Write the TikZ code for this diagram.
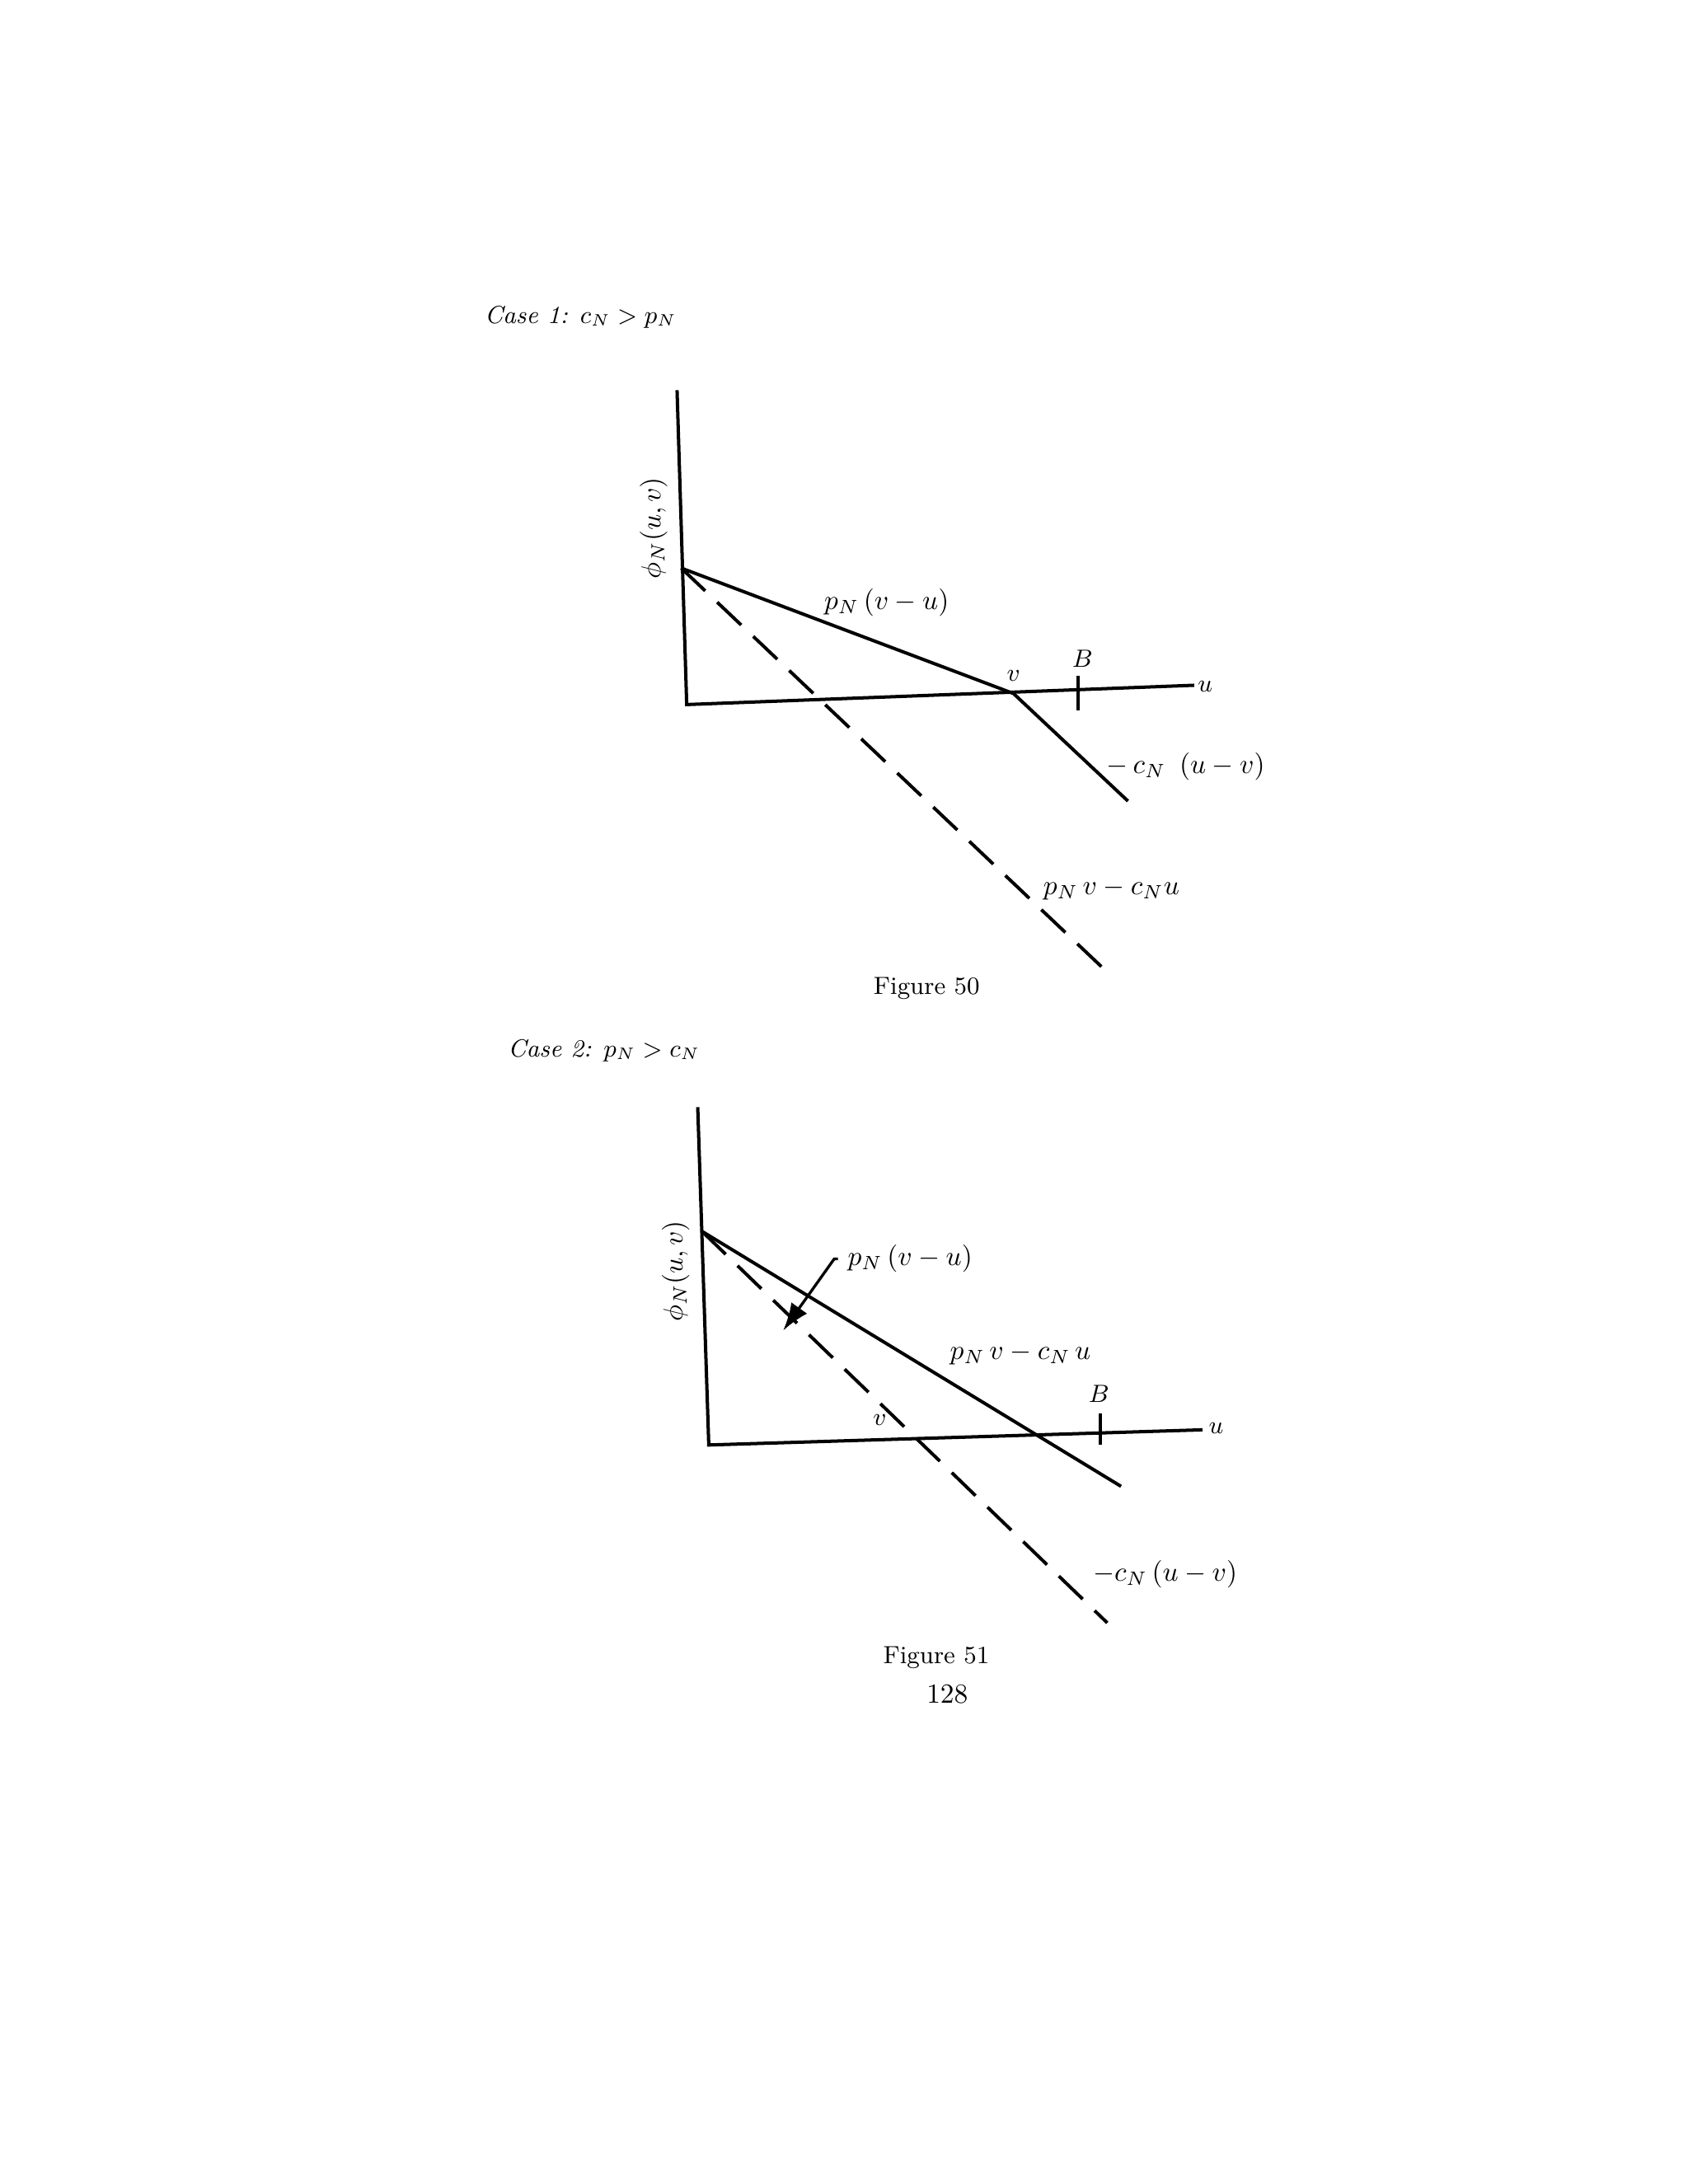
\documentclass[tikz,border=0pt]{standalone}
\usepackage{amsmath}
\usetikzlibrary{arrows.meta}
\begin{document}
\begin{tikzpicture}[x=0.5pt,y=-0.5pt,
  ln/.style={line width=1.2pt},
  dl/.style={line width=1.2pt,dash pattern=on 12pt off 6pt}]
\useasboundingbox (0,0) rectangle (1224,1584);
% Figure 50
\node at (421,230) {\small\itshape Case 1: $c_N > p_N$};
\coordinate (o1) at (498,511);
\coordinate (a1) at (494,412);
\coordinate (v1) at (735,503);
\draw[ln] (491,283) -- (o1) -- (866,497);
\draw[ln] (a1) -- (v1) -- (818,581);
\draw[dl] (a1) -- (805,707);
\draw[ln] (782,490) -- (782,515);
\node[rotate=90] at (474,383) {$\phi_N(u,v)$};
\node at (643,437) {$p_N\,(v-u)$};
\node at (735,490) {\small$v$};
\node at (785,478) {\small$B$};
\node at (874,498) {\small$u$};
\node at (860,556) {$-\,c_N\ \,(u-v)$};
\node at (806,645) {$p_N\,v-c_N u$};
\node at (672,717) {\small Figure 50};
% Figure 51
\node at (438,762) {\small\itshape Case 2: $p_N > c_N$};
\coordinate (o2) at (514,1048);
\coordinate (a2) at (509,893);
\draw[ln] (506,803) -- (o2) -- (872,1037);
\draw[ln] (a2) -- (813,1078);
\draw[dl] (a2) -- (803,1177);
\draw[ln] (798,1025) -- (798,1048);
\node[rotate=90] at (490,922) {$\phi_N(u,v)$};
\node (pl) at (660,913) {$p_N\,(v-u)$};
\draw[line width=1pt,-{Latex[length=10pt,width=7pt]}] (pl.west) -- (605,913) -- (568,965);
\node at (740,982) {$p_N\,v-c_N\,u$};
\node at (638,1030) {\small$v$};
\node at (797,1011) {\small$B$};
\node at (882,1036) {\small$u$};
\node at (845,1142) {$-c_N\,(u-v)$};
\node at (679,1202) {\small Figure 51};
\node at (687,1229) {128};
\end{tikzpicture}
\end{document}
